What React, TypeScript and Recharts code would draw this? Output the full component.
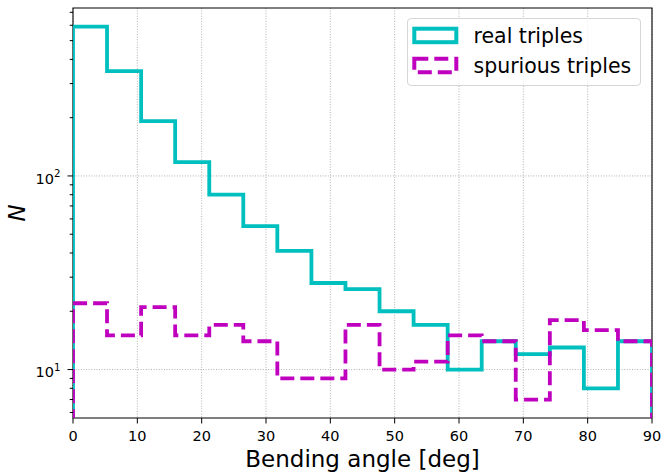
import React from 'react';
import {
  LineChart,
  Line,
  XAxis,
  YAxis,
  CartesianGrid,
  ReferenceLine,
  ReferenceArea,
  Legend,
  Label,
} from 'recharts';

// histogram bin edges (17 bins over 0..90 deg)
const BIN_EDGES = [
  0, 5.29, 10.59, 15.88, 21.18, 26.47, 31.76, 37.06, 42.35, 47.65, 52.94, 58.24,
  63.53, 68.82, 74.12, 79.41, 84.71, 90,
];
const REAL_COUNTS = [590, 348, 192, 118, 80, 55, 41, 28, 26, 20, 17, 10, 14, 12, 13, 8, 14];
const SPURIOUS_COUNTS = [22, 15, 21, 15, 17, 14, 9, 9, 17, 10, 11, 15, 14, 7, 18, 16, 14];

const X_TICKS = [0, 10, 20, 30, 40, 50, 60, 70, 80, 90];
const Y_MAJOR = [10, 100];
const Y_MINOR = [6, 7, 8, 9, 20, 30, 40, 50, 60, 70, 80, 90, 200, 300, 400, 500, 600, 700];
const Y_DOMAIN = [5.62, 737];
const BASE = 1; // below the axis floor, clipped like matplotlib

const CYAN = '#00bfbf';
const MAGENTA = '#bf00bf';
const FONT = '"DejaVu Sans", sans-serif';

// step outline: rises from the floor at the first edge, drops back at the last
function stepPoints(counts: number[]) {
  const pts = [{ x: BIN_EDGES[0], y: BASE }];
  counts.forEach((c, i) => pts.push({ x: BIN_EDGES[i], y: c }));
  const last = BIN_EDGES[BIN_EDGES.length - 1];
  pts.push({ x: last, y: counts[counts.length - 1] });
  pts.push({ x: last, y: BASE });
  return pts;
}

const realData = stepPoints(REAL_COUNTS);
const spuriousData = stepPoints(SPURIOUS_COUNTS);

const TICK_SIZE = 5.5;
const TICK_MARGIN = 7;

function YTick(props: any) {
  const { x, y, payload } = props;
  const v = payload.value;
  const major = Y_MAJOR.includes(v);
  const axisX = x + TICK_MARGIN + TICK_SIZE;
  const len = major ? 5.5 : 3.3;
  return (
    <g>
      <line x1={axisX} x2={axisX - len} y1={y} y2={y} stroke="#000" strokeWidth={1} />
      {major && (
        <text x={x} y={y + 7.6} textAnchor="end" fontSize={14.5} fontFamily={FONT} fill="#000">
          10
          <tspan dy={-6.5} fontSize={10.2}>
            {Math.round(Math.log10(v))}
          </tspan>
        </text>
      )}
    </g>
  );
}

function LegendBox() {
  const items = [
    { label: 'real triples', color: CYAN, dash: undefined as string | undefined },
    { label: 'spurious triples', color: MAGENTA, dash: '14 6' },
  ];
  return (
    <div
      style={{
        width: 232,
        height: 66,
        border: '1px solid #d6d6d6',
        borderRadius: 4,
        background: 'rgba(255,255,255,0.8)',
        boxSizing: 'content-box',
      }}
    >
      <svg width={232} height={66}>
        {items.map((it, i) => (
          <g key={it.label}>
            <rect
              x={6.3}
              y={9.7 + i * 30}
              width={42}
              height={13.5}
              fill="none"
              stroke={it.color}
              strokeWidth={4}
              strokeDasharray={it.dash}
            />
            <text x={65.5} y={24.3 + i * 30} fontSize={20.5} fontFamily={FONT} fill="#000">
              {it.label}
            </text>
          </g>
        ))}
      </svg>
    </div>
  );
}

export default function App() {
  return (
    <div style={{ width: 663, height: 474, background: '#fff' }}>
      <style>{'body{margin:0}'}</style>
      <LineChart
        width={663}
        height={474}
        margin={{ top: 8, right: 11, left: 0, bottom: 0 }}
      >
        <CartesianGrid
          horizontal={false}
          stroke="#b0b0b0"
          strokeDasharray="1 1.6"
          strokeWidth={1}
        />
        {Y_MAJOR.map((v) => (
          <ReferenceLine key={v} y={v} stroke="#b0b0b0" strokeDasharray="1 1.6" strokeWidth={1} />
        ))}
        <XAxis
          dataKey="x"
          type="number"
          domain={[0, 90]}
          ticks={X_TICKS}
          allowDataOverflow
          height={56}
          axisLine={false}
          tickSize={TICK_SIZE}
          tickMargin={7}
          tickLine={{ stroke: '#000', strokeWidth: 1 }}
          tick={{ fontSize: 14.5, fill: '#000', fontFamily: FONT }}
        >
          <Label
            value="Bending angle [deg]"
            position="insideBottom"
            offset={7}
            style={{ fontSize: 23, fill: '#000', fontFamily: FONT }}
          />
        </XAxis>
        <YAxis
          dataKey="y"
          type="number"
          scale="log"
          domain={Y_DOMAIN}
          ticks={[...Y_MAJOR, ...Y_MINOR]}
          allowDataOverflow
          width={73}
          axisLine={false}
          tickLine={false}
          tickSize={TICK_SIZE}
          tickMargin={TICK_MARGIN}
          tick={<YTick />}
          interval={0}
        >
          <Label
            content={() => (
              <text
                x={25}
                y={213}
                transform="rotate(-90 25 213)"
                textAnchor="middle"
                fontSize={23}
                fontStyle="italic"
                fontFamily={FONT}
                fill="#000"
              >
                N
              </text>
            )}
          />
        </YAxis>
        <Line
          data={realData}
          dataKey="y"
          type="stepAfter"
          stroke={CYAN}
          strokeWidth={3.8}
          strokeLinejoin="miter"
          dot={false}
          activeDot={false}
          isAnimationActive={false}
        />
        <Line
          data={spuriousData}
          dataKey="y"
          type="stepAfter"
          stroke={MAGENTA}
          strokeWidth={3.8}
          strokeDasharray="14 6"
          strokeLinejoin="miter"
          dot={false}
          activeDot={false}
          isAnimationActive={false}
        />
        <ReferenceArea
          x1={0}
          x2={90}
          y1={Y_DOMAIN[0]}
          y2={Y_DOMAIN[1]}
          fill="none"
          stroke="#000"
          strokeWidth={1.1}
        />
        <Legend
          layout="horizontal"
          verticalAlign="middle"
          align="center"
          content={() => <LegendBox />}
          wrapperStyle={{ left: 407, top: 18, width: 'auto', height: 'auto' }}
        />
      </LineChart>
    </div>
  );
}
